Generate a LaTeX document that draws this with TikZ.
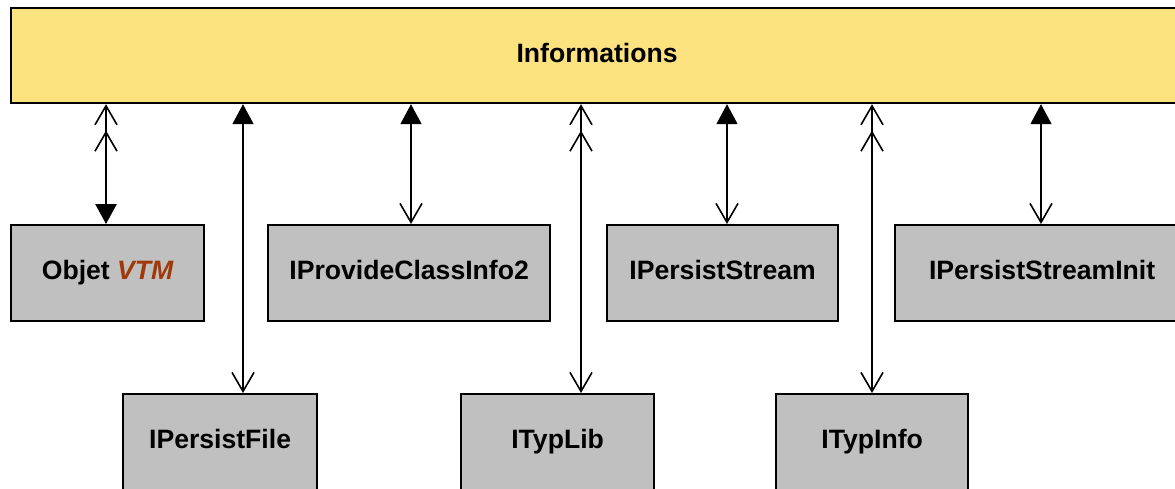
\documentclass[tikz,border=0pt]{standalone}
\usepackage{fontspec}
\setmainfont{Liberation Sans}
\usetikzlibrary{arrows.meta}
\definecolor{infoyellow}{RGB}{253,226,128}
\definecolor{ifgray}{RGB}{192,192,192}
\definecolor{vtmbrown}{RGB}{160,56,8}
\tikzset{
  box/.style={draw=black, line width=2.2pt, inner sep=0pt, anchor=north west,
    font=\fontsize{26.6}{31}\selectfont\bfseries},
  infobox/.style={box, fill=infoyellow},
  ifbox/.style={box, fill=ifgray},
  vee/.tip={Straight Barb[length=19pt,width=22pt,line width=1.6pt]},
  dvee/.tip={Straight Barb[length=19pt,width=22pt,line width=1.6pt,sep=5pt]Straight Barb[length=19pt,width=22pt,line width=1.6pt]},
  tri/.tip={Triangle[length=20pt,width=21pt]},
  link/.style={line width=1.6pt},
  strong/.style={line width=2.6pt},
}
\begin{document}
\begin{tikzpicture}[x=1pt,y=-1pt]
  \useasboundingbox (0,0) rectangle (1175,488);
  \clip (0,0) rectangle (1175,488);

  % top component
  \node[infobox, minimum width=1172pt, minimum height=95pt,
        text depth=0pt] (info) at (10,7) {\raisebox{6pt}{Informations}};

  % first row of interfaces
  \node[ifbox, minimum width=193pt, minimum height=96pt] (objet) at (10,224)
    {\raisebox{6pt}{Objet \textcolor{vtmbrown}{\itshape VTM}}};
  \node[ifbox, minimum width=282pt, minimum height=96pt] (ipci) at (267,224)
    {\raisebox{6pt}{IProvideClassInfo2}};
  \node[ifbox, minimum width=231pt, minimum height=96pt] (ips) at (606,224)
    {\raisebox{6pt}{IPersistStream}};
  \node[ifbox, minimum width=294pt, minimum height=96pt] (ipsi) at (894,224)
    {\raisebox{6pt}{IPersistStreamInit}};

  % second row of interfaces
  \node[ifbox, minimum width=194pt, minimum height=100pt] (ipf) at (122,393)
    {\raisebox{10pt}{IPersistFile}};
  \node[ifbox, minimum width=193pt, minimum height=100pt] (itl) at (460,393)
    {\raisebox{10pt}{ITypLib}};
  \node[ifbox, minimum width=192pt, minimum height=100pt] (iti) at (775,393)
    {\raisebox{10pt}{ITypInfo}};

  % connector positions
  \coordinate (xobjet) at (106,0);
  \coordinate (xipf)   at (243,0);
  \coordinate (xipci)  at (411,0);
  \coordinate (xitl)   at (581,0);
  \coordinate (xips)   at (727,0);
  \coordinate (xiti)   at (872,0);
  \coordinate (xipsi)  at (1041,0);

  % connectors
  \draw[strong, {dvee}-{tri}] (info.south -| xobjet) -- (objet.north -| xobjet);
  \draw[link, {tri}-{vee}]    (info.south -| xipf)   -- (ipf.north -| xipf);
  \draw[link, {tri}-{vee}]    (info.south -| xipci)  -- (ipci.north -| xipci);
  \draw[link, {dvee}-{vee}]   (info.south -| xitl)   -- (itl.north -| xitl);
  \draw[link, {tri}-{vee}]    (info.south -| xips)   -- (ips.north -| xips);
  \draw[link, {dvee}-{vee}]   (info.south -| xiti)   -- (iti.north -| xiti);
  \draw[link, {tri}-{vee}]    (info.south -| xipsi)  -- (ipsi.north -| xipsi);
\end{tikzpicture}
\end{document}
